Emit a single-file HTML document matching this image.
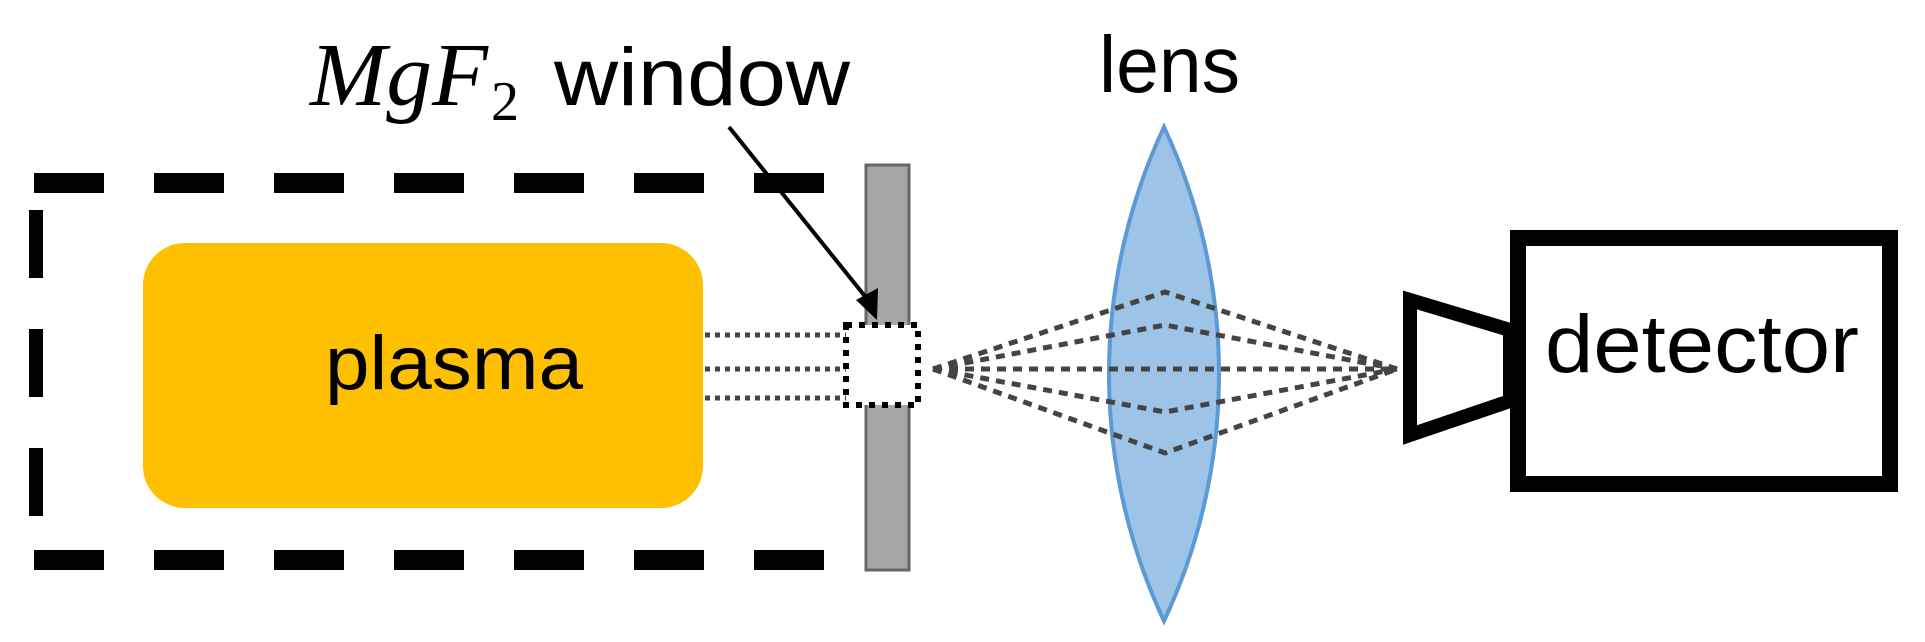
<!DOCTYPE html>
<html><head><meta charset="utf-8"><style>html,body{margin:0;padding:0;background:#fff;}svg{display:block}</style></head>
<body>
<svg width="1925" height="642" viewBox="0 0 1925 642" xmlns="http://www.w3.org/2000/svg">
<g stroke="#000" fill="none" stroke-linecap="butt">
<line x1="34" y1="183" x2="860" y2="183" stroke-width="20" stroke-dasharray="70 50"/>
<line x1="34" y1="560" x2="860" y2="560" stroke-width="20" stroke-dasharray="70 50"/>
<line x1="36" y1="210" x2="36" y2="540" stroke-width="14" stroke-dasharray="68 51"/>
</g>
<rect x="143" y="243" width="560" height="265" rx="42" fill="#FFC000"/>
<text x="325" y="389" font-family="Liberation Sans, sans-serif" font-size="76" textLength="258" lengthAdjust="spacingAndGlyphs" fill="#000">plasma</text>
<rect x="866" y="165" width="43" height="405" fill="#A6A6A6" stroke="#666" stroke-width="3"/>
<g stroke="#444" stroke-width="5" stroke-dasharray="5 5" fill="none">
<line x1="705" y1="335" x2="848" y2="335"/>
<line x1="705" y1="369" x2="848" y2="369"/>
<line x1="705" y1="398" x2="848" y2="398"/>
</g>
<rect x="846" y="325" width="72" height="80" fill="#fff" stroke="#000" stroke-width="6" stroke-dasharray="6 7"/>
<path d="M1164 127 A582 582 0 0 1 1164 621 A582 582 0 0 1 1164 127 Z" fill="#9DC3E6" stroke="#5B9BD5" stroke-width="4"/>
<g stroke="#444" stroke-width="5" stroke-dasharray="9 7" fill="none">
<polyline points="933,369 1165,292 1397,369"/>
<polyline points="933,369 1165,325 1397,369"/>
<polyline points="933,369 1165,369 1397,369"/>
<polyline points="933,369 1165,412 1397,369"/>
<polyline points="933,369 1165,453 1397,369"/>
</g>
<line x1="729" y1="127" x2="868" y2="300" stroke="#000" stroke-width="4"/>
<polygon points="877,320 856,300 878,288" fill="#000"/>
<text x="310" y="105" font-family="Liberation Serif, serif" font-style="italic" font-size="90" textLength="178" lengthAdjust="spacingAndGlyphs" fill="#000">MgF</text>
<text x="491" y="120" font-family="Liberation Serif, serif" font-size="56" fill="#000">2</text>
<text x="554" y="105" font-family="Liberation Sans, sans-serif" font-size="82" textLength="296" lengthAdjust="spacingAndGlyphs" fill="#000">window</text>
<text x="1099" y="92" font-family="Liberation Sans, sans-serif" font-size="80" textLength="141" lengthAdjust="spacingAndGlyphs" fill="#000">lens</text>
<polygon points="1410,300 1510,330 1510,401 1410,435" fill="#fff" stroke="#000" stroke-width="14" stroke-linejoin="miter"/>
<rect x="1518" y="238" width="372" height="246" fill="#fff" stroke="#000" stroke-width="16"/>
<text x="1545" y="372" font-family="Liberation Sans, sans-serif" font-size="82" textLength="314" lengthAdjust="spacingAndGlyphs" fill="#000">detector</text>
</svg>
</body></html>
